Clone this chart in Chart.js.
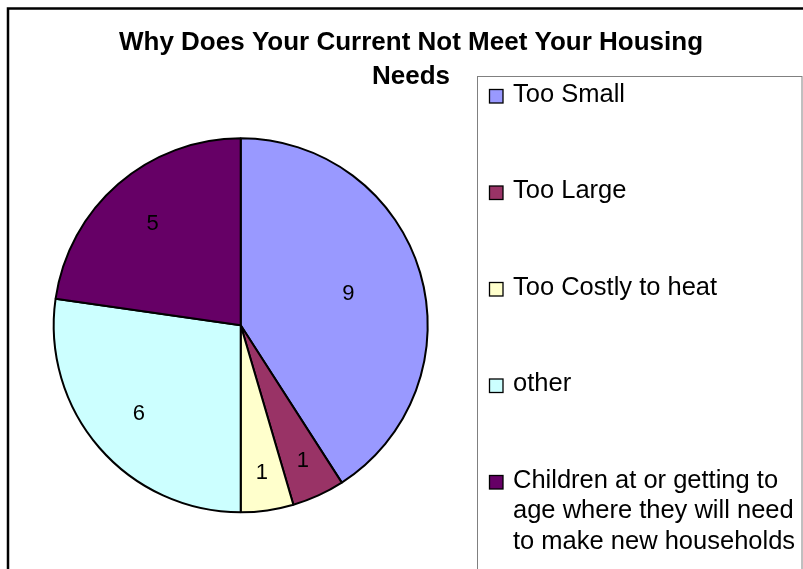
<!DOCTYPE html>
<html>
<head>
<meta charset="utf-8">
<title>Housing Needs</title>
<script src="https://cdn.jsdelivr.net/npm/chart.js@4/dist/chart.umd.min.js"></script>
<style>
  html, body { margin: 0; padding: 0; background: #fff; overflow: hidden; }
  #housingChart { display: block; }
</style>
</head>
<body>
<canvas id="housingChart" width="803" height="569"></canvas>
<script>
// Survey answers, counted per reason
const reasons = [
    'Too Small',
    'Too Large',
    'Too Costly to heat',
    'other',
    ['Children at or getting to', 'age where they will need', 'to make new households']
];
const counts = [9, 1, 1, 6, 5];
const sliceColors = ['#9999FF', '#993366', '#FFFFCC', '#CCFFFF', '#660066'];
const titleLines = ['Why Does Your Current Not Meet Your Housing', 'Needs'];

const FONT = '"Liberation Sans", Arial, Helvetica, sans-serif';

// Outer frame, title and the boxed legend on the right
const framePlugin = {
    id: 'frame',
    afterDraw(chart) {
        const ctx = chart.ctx;
        ctx.save();

        // chart frame (runs off the right/bottom edge)
        ctx.strokeStyle = '#000';
        ctx.lineWidth = 2.5;
        ctx.strokeRect(8, 8.5, 900, 700);

        // title
        ctx.fillStyle = '#000';
        ctx.font = 'bold 26px ' + FONT;
        ctx.textAlign = 'center';
        ctx.textBaseline = 'alphabetic';
        titleLines.forEach(function(line, i) {
            ctx.fillText(line, 411, 50 + i * 33.5);
        });

        // legend box
        ctx.strokeStyle = '#808080';
        ctx.lineWidth = 1;
        ctx.strokeRect(477.5, 76.5, 324.5, 600);

        // legend entries
        const colors = chart.data.datasets[0].backgroundColor;
        ctx.font = '25.5px ' + FONT;
        ctx.textAlign = 'left';
        chart.data.labels.forEach(function(label, i) {
            const baseY = 101.5 + i * 96.5;
            ctx.fillStyle = colors[i];
            ctx.fillRect(489.5, baseY - 12, 13.5, 13.5);
            ctx.strokeStyle = '#000';
            ctx.lineWidth = 1.3;
            ctx.strokeRect(489.5, baseY - 12, 13.5, 13.5);
            ctx.fillStyle = '#000';
            const lines = Array.isArray(label) ? label : [label];
            lines.forEach(function(text, j) {
                ctx.fillText(text, 513, baseY + j * 30.5);
            });
        });

        ctx.restore();
    }
};

// Value labels inside each slice
const valueLabelPlugin = {
    id: 'valueLabels',
    afterDatasetsDraw(chart) {
        const ctx = chart.ctx;
        const meta = chart.getDatasetMeta(0);
        const values = chart.data.datasets[0].data;
        const total = values.reduce(function(a, b) { return a + b; }, 0);
        ctx.save();
        ctx.fillStyle = '#000';
        ctx.font = '22px ' + FONT;
        ctx.textAlign = 'center';
        ctx.textBaseline = 'middle';
        meta.data.forEach(function(arc, i) {
            const p = arc.getProps(['x', 'y', 'startAngle', 'endAngle', 'outerRadius'], true);
            const mid = (p.startAngle + p.endAngle) / 2;
            const share = values[i] / total;
            // big slices keep their label nearer the centre
            const k = share > 0.35 ? 0.6 : (share > 0.15 ? 0.72 : 0.8);
            const x = p.x + Math.cos(mid) * p.outerRadius * k;
            const y = p.y + Math.sin(mid) * p.outerRadius * k;
            ctx.fillText(String(values[i]), x, y);
        });
        ctx.restore();
    }
};

new Chart(document.getElementById('housingChart'), {
    type: 'pie',
    data: {
        labels: reasons,
        datasets: [{
            data: counts,
            backgroundColor: sliceColors,
            borderColor: '#000',
            borderWidth: 2
        }]
    },
    options: {
        responsive: false,
        animation: false,
        radius: 187,
        layout: {
            padding: { left: 20, right: 341.6, top: 120, bottom: 38.4 }
        },
        plugins: {
            legend: { display: false },
            title: { display: false },
            tooltip: { enabled: false }
        }
    },
    plugins: [valueLabelPlugin, framePlugin]
});
</script>
</body>
</html>
